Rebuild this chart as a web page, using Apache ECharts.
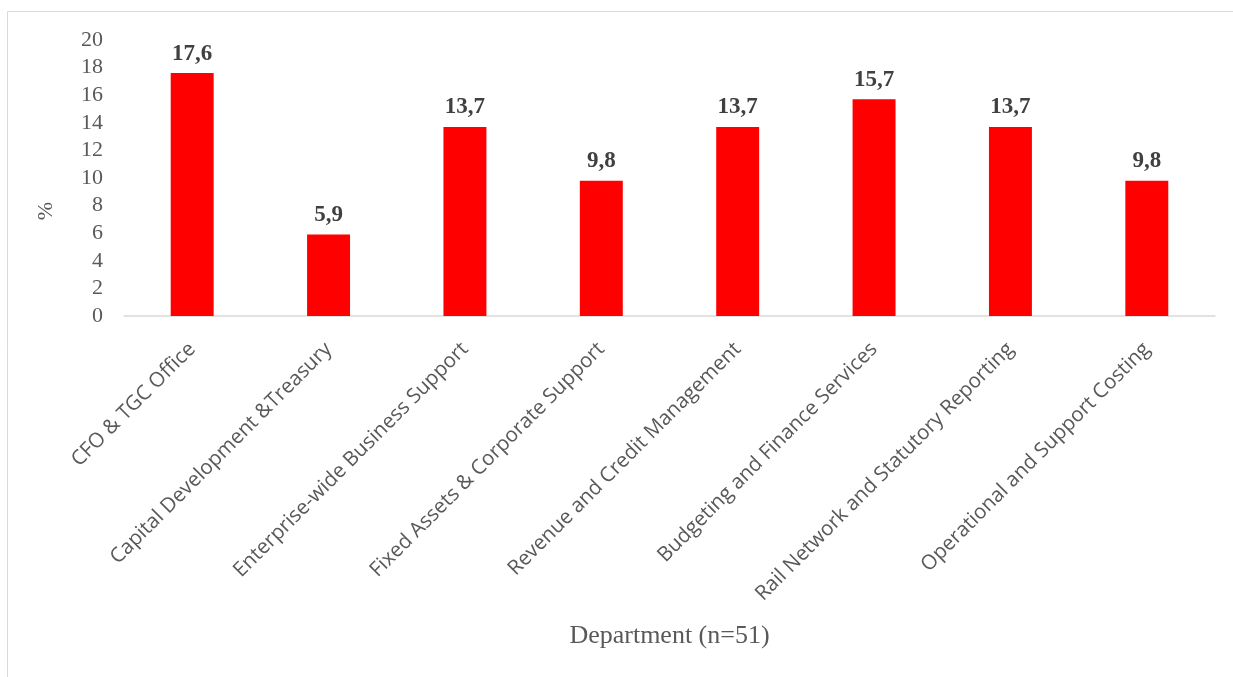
<!DOCTYPE html>
<html><head><meta charset="utf-8">
<script src="https://cdn.jsdelivr.net/npm/echarts@6/dist/echarts.min.js"></script>
<style>html,body{margin:0;padding:0;background:#fff}#c{width:1233px;height:677px}</style>
</head><body><div id="c"></div>
<script>
const categories = ["CFO & TGC Office","Capital Development &Treasury","Enterprise-wide Business Support","Fixed Assets & Corporate Support","Revenue and Credit Management","Budgeting and Finance Services","Rail Network and Statutory Reporting","Operational and Support Costing"];
const values = [17.6, 5.9, 13.7, 9.8, 13.7, 15.7, 13.7, 9.8];
const yAxisTitle = "%";
const xAxisTitle = "Department (n=51)";

const chart = echarts.init(document.getElementById('c'), null, {renderer:'canvas'});
chart.setOption({
  animation:false,
  backgroundColor:'#fff',
  graphic:[
    {type:'rect', shape:{x:7.5,y:11.5,width:1240,height:700}, style:{fill:'none',stroke:'#D9D9D9',lineWidth:1}, silent:true},
    {type:'text', x:46, y:211, rotation:Math.PI/2, style:{text:yAxisTitle, font:'22px "Liberation Serif"', fill:'#595959', align:'center', verticalAlign:'middle'}}
  ],
  grid:{left:124,right:18,top:40,bottom:361,containLabel:false},
  xAxis:{type:'category',data:categories,
    axisLine:{lineStyle:{color:'#D9D9D9',width:1.5}},axisTick:{show:false},
    axisLabel:{rotate:45,interval:0,margin:30,color:'#595959',fontFamily:'Open Sans',fontSize:20.5},
    name:xAxisTitle,nameLocation:'middle',nameGap:307,
    nameTextStyle:{fontFamily:'Liberation Serif',fontSize:26,color:'#595959'}},
  yAxis:{type:'value',min:0,max:20,interval:2,
    axisLine:{show:false},axisTick:{show:false},splitLine:{show:false},
    axisLabel:{margin:21,color:'#595959',fontFamily:'Liberation Serif',fontSize:22}},
  series:[{type:'bar',data:values,barWidth:'31.5%',itemStyle:{color:'#FF0000'},
    label:{show:true,position:'top',distance:8,fontFamily:'Liberation Serif',fontWeight:'bold',fontSize:23,color:'#404040',
      formatter:p=>String(p.value).replace('.',',')}}]
});
</script></body></html>
